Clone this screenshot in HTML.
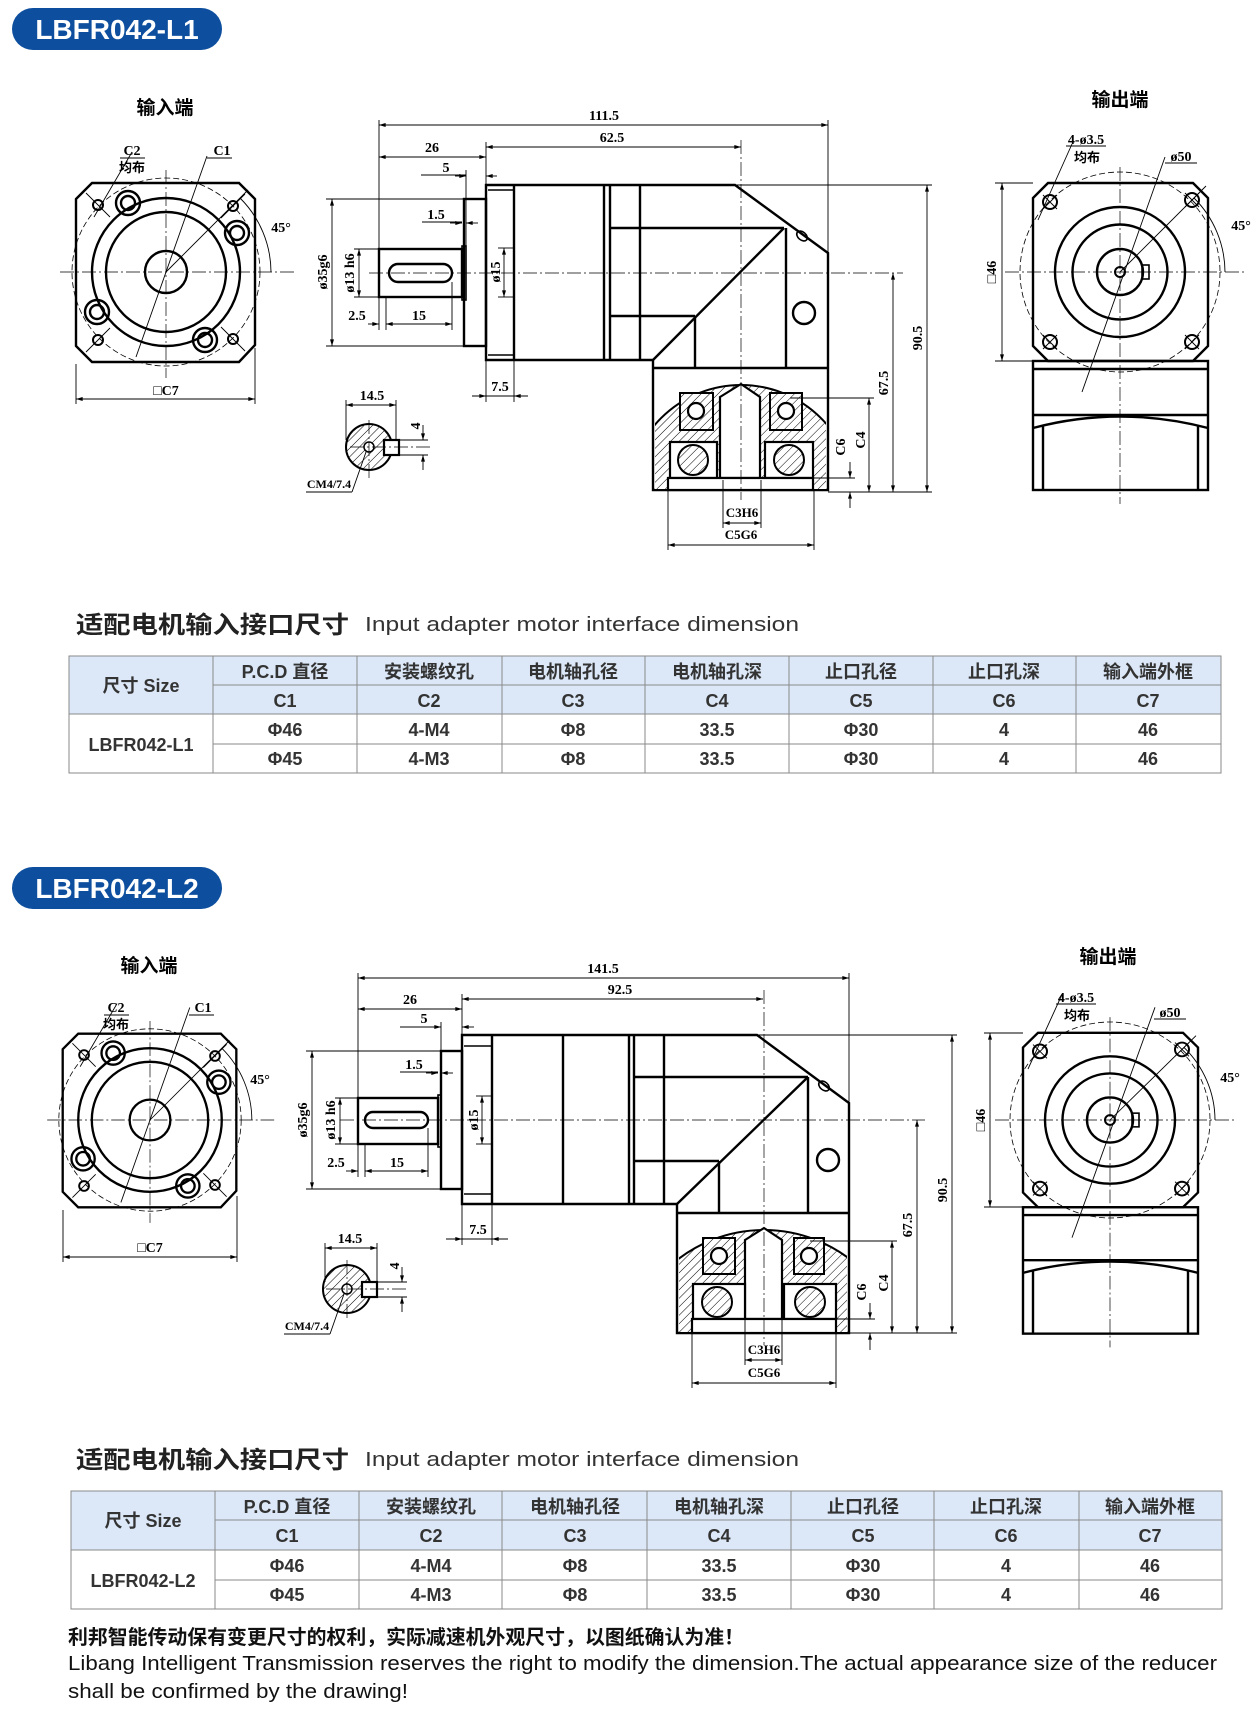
<!DOCTYPE html>
<html><head><meta charset="utf-8"><style>
html,body{margin:0;padding:0;background:#fff;width:1259px;height:1712px;overflow:hidden}
svg{display:block}
.o{fill:none;stroke:#000;stroke-width:2.4;stroke-linejoin:miter}
.w{fill:#fff;stroke:#000;stroke-width:2.2}
.t{fill:none;stroke:#000;stroke-width:0.9}
.d{fill:none;stroke:#000;stroke-width:0.9;marker-start:url(#ar);marker-end:url(#ar)}
.c{fill:none;stroke:#000;stroke-width:0.7;stroke-dasharray:14 3 2 3}
.dc{fill:none;stroke:#000;stroke-width:0.8;stroke-dasharray:6 3}
.h{fill:url(#hatch);stroke:#000;stroke-width:2}
.l{font-family:"Liberation Serif","DejaVu Serif",serif;font-weight:bold;font-size:14px;fill:#000;text-anchor:middle}
.cn{font-family:"Liberation Sans","Noto Sans CJK SC",sans-serif;font-weight:bold;font-size:19px;fill:#000;text-anchor:middle}
.cs{font-family:"Liberation Sans","Noto Sans CJK SC",sans-serif;font-weight:bold;font-size:13px;fill:#000;text-anchor:middle}
.th{font-family:"Liberation Sans","Noto Sans CJK SC",sans-serif;font-size:18px;fill:#333;text-anchor:middle;font-weight:bold}
.tv{font-family:"Liberation Sans","Noto Sans CJK SC",sans-serif;font-size:18px;fill:#333;text-anchor:middle;font-weight:bold}
.tt{font-family:"Liberation Sans","Noto Sans CJK SC",sans-serif;font-weight:bold;font-size:24px;fill:#222}
.te{font-family:"Liberation Sans",sans-serif;font-size:20px;fill:#333;font-weight:500}
.ft{font-family:"Liberation Sans","Noto Sans CJK SC",sans-serif;font-size:20px;fill:#111}
</style></head><body>
<svg width="1259" height="1712" viewBox="0 0 1259 1712" xmlns="http://www.w3.org/2000/svg">
<defs>
<marker id="ar" viewBox="0 0 10 6" refX="10" refY="3" markerWidth="8" markerHeight="4" orient="auto-start-reverse" markerUnits="userSpaceOnUse"><path d="M0,0 L10,3 L0,6 z" fill="#000"/></marker>
<pattern id="hatch" patternUnits="userSpaceOnUse" width="6" height="6" patternTransform="rotate(45)"><rect width="6" height="6" fill="#fff"/><line x1="0" y1="0" x2="0" y2="6" stroke="#000" stroke-width="1"/></pattern>
<g id="inv">
<polygon class="o" points="-74,-89 73,-89 89,-73 89,73 73,90 -74,90 -90,74 -90,-73"/>
<circle class="dc" r="94"/>
<circle class="o" r="74"/><circle class="o" r="60"/><circle class="o" r="21"/>
<g class="o"><circle cx="-38" cy="-69" r="12"/><circle cx="-38" cy="-69" r="7"/><circle cx="71" cy="-39" r="12"/><circle cx="71" cy="-39" r="7"/><circle cx="-69" cy="40" r="12"/><circle cx="-69" cy="40" r="7"/><circle cx="39" cy="68" r="12"/><circle cx="39" cy="68" r="7"/></g>
<g style="fill:none;stroke:#000;stroke-width:2"><circle cx="-68" cy="-67" r="5"/><circle cx="67" cy="-66" r="5"/><circle cx="-68" cy="68" r="5"/><circle cx="67" cy="67" r="5"/></g>
<g class="t"><line x1="-80" y1="-79" x2="-56" y2="-55"/><line x1="79" y1="-78" x2="55" y2="-54"/><line x1="-80" y1="80" x2="-56" y2="56"/><line x1="79" y1="79" x2="55" y2="55"/>
<line x1="0" y1="0" x2="82" y2="-82"/><path d="M74,-74 A105,105 0 0 1 105,0"/><line x1="-72" y1="-55" x2="-34" y2="-120"/><line x1="-30" y1="85" x2="41" y2="-116"/></g>
<line class="c" x1="-106" y1="0" x2="128" y2="0"/><line class="c" x1="0" y1="-102" x2="0" y2="106"/>
</g>
<g id="outv">
<polygon class="o" points="-72,-89 73,-89 88,-74 88,74 73,89 -72,89 -87,74 -87,-74"/>
<circle class="dc" r="100"/>
<circle class="o" r="65"/><circle class="o" r="47.5"/><circle class="o" r="23"/><circle class="o" r="5" style="stroke-width:2"/>
<rect class="o" x="22" y="-7" width="7" height="14" style="stroke-width:1.6"/>
<g style="fill:none;stroke:#000;stroke-width:2"><circle cx="-70" cy="-70" r="7"/><circle cx="72" cy="-72" r="7"/><circle cx="-70" cy="70" r="7"/><circle cx="72" cy="70" r="7"/></g>
<g class="t"><path d="M-77,-77 L-63,-63 M-77,-63 L-63,-77 M65,-79 L79,-65 M65,-65 L79,-79 M-77,63 L-63,77 M-77,77 L-63,63 M65,63 L79,77 M65,77 L79,63"/>
<line x1="-48" y1="-128" x2="-82" y2="-52"/><line x1="45" y1="-115" x2="-38" y2="120"/><line x1="0" y1="0" x2="86" y2="-86"/><path d="M74,-74 A105,105 0 0 1 105,0"/></g>
<rect class="o" x="-87" y="89" width="175" height="129"/>
<line class="o" x1="-87" y1="97" x2="88" y2="97"/><line class="o" x1="-87" y1="143" x2="88" y2="143"/>
<path class="o" d="M-87,156 Q0,133 88,156"/><line class="o" x1="-77" y1="153" x2="-77" y2="218"/><line class="o" x1="78" y1="153" x2="78" y2="218"/>
<line class="c" x1="-115" y1="0" x2="126" y2="0"/><line class="c" x1="0" y1="-105" x2="0" y2="232"/>
</g>
</defs>

<!-- ========== SECTION 1 ========== -->
<rect x="12" y="8" width="210" height="42" rx="21" fill="#0d4f9e"/>
<text x="117" y="39" style="font-family:'Liberation Sans',sans-serif;font-size:28px;font-weight:bold;fill:#fff;text-anchor:middle">LBFR042-L1</text>

<use href="#inv" transform="translate(166,272)"/>
<text class="cn" x="165" y="114">输入端</text>
<text class="l" x="132" y="155">C2</text><line class="t" x1="120" y1="158" x2="145" y2="158"/>
<text class="cs" x="132" y="172">均布</text>
<text class="l" x="222" y="155">C1</text><line class="t" x1="207" y1="158" x2="232" y2="158"/>
<text class="l" x="281" y="232">45°</text>
<line class="t" x1="76" y1="364" x2="76" y2="404"/><line class="t" x1="255" y1="348" x2="255" y2="404"/>
<line class="d" x1="76" y1="399" x2="255" y2="399"/>
<text class="l" x="166" y="395">□C7</text>

<use href="#outv" transform="translate(1120,272)"/>
<text class="cn" x="1120" y="106">输出端</text>
<text class="l" x="1086" y="144">4-ø3.5</text><line class="t" x1="1066" y1="146" x2="1106" y2="146"/>
<text class="cs" x="1087" y="162">均布</text>
<text class="l" x="1181" y="161">ø50</text><line class="t" x1="1165" y1="163" x2="1197" y2="163"/>
<text class="l" x="1241" y="230">45°</text>
<line class="t" x1="995" y1="183" x2="1033" y2="183"/><line class="t" x1="995" y1="361" x2="1033" y2="361"/>
<line class="d" x1="1002" y1="183" x2="1002" y2="361"/>
<text class="l" transform="translate(996,272) rotate(-90)">□46</text>

<!-- side view 1 -->
<g>
<path class="o" d="M486,185 H735 L828,253 V490 H653 V360 H486 Z"/>
<line class="o" x1="514" y1="185" x2="514" y2="360"/>
<line class="t" x1="488" y1="190" x2="514" y2="190" style="stroke-width:1.6"/><line class="t" x1="488" y1="355" x2="514" y2="355" style="stroke-width:1.6"/>
<rect class="o" x="464" y="199" width="22" height="147"/>
<rect class="o" x="462" y="246" width="4" height="54" style="stroke-width:1.6"/>
<rect class="o" x="379" y="249" width="83" height="48"/>
<rect class="o" x="389" y="264" width="63" height="18" rx="9"/>
<g class="o"><line x1="604" y1="185" x2="604" y2="360"/><line x1="610" y1="185" x2="610" y2="360"/><line x1="640" y1="185" x2="640" y2="360"/>
<line x1="610" y1="228" x2="784" y2="228"/><line x1="610" y1="316" x2="695" y2="316"/><line x1="653" y1="360" x2="784" y2="228"/>
<line x1="695" y1="316" x2="695" y2="368"/><line x1="786" y1="228" x2="786" y2="368"/><line x1="653" y1="368" x2="828" y2="368"/></g>
<circle class="o" cx="804" cy="313" r="11"/><ellipse class="o" cx="802" cy="236" rx="6" ry="4" transform="rotate(40 802 236)" style="stroke-width:1.6"/>
<clipPath id="cp1"><rect x="655" y="370" width="171" height="119"/></clipPath>
<circle class="h" cx="741" cy="498" r="113" clip-path="url(#cp1)"/>
<polygon class="w" points="720,397 741,384 760,397 760,478 720,478"/>
<rect class="h" x="680" y="393" width="33" height="37"/><circle class="w" cx="696" cy="411" r="8"/>
<rect class="h" x="770" y="393" width="32" height="37"/><circle class="w" cx="786" cy="411" r="8"/>
<rect class="w" x="670" y="442" width="47" height="36"/><circle class="h" cx="693" cy="460" r="15"/>
<rect class="w" x="765" y="442" width="48" height="36"/><circle class="h" cx="789" cy="460" r="15"/>
<rect class="w" x="668" y="478" width="145" height="12"/>
<line class="c" x1="741" y1="140" x2="741" y2="500"/>
<line class="c" x1="369" y1="273" x2="903" y2="273"/>
</g>
<!-- dims 1 -->
<g class="t">
<line x1="379" y1="120" x2="379" y2="249"/><line x1="828" y1="120" x2="828" y2="253"/>
<line x1="486" y1="142" x2="486" y2="185"/><line x1="466" y1="170" x2="466" y2="246"/>
<line x1="326" y1="199" x2="464" y2="199"/><line x1="326" y1="346" x2="464" y2="346"/>
<line x1="354" y1="249" x2="379" y2="249"/><line x1="354" y1="297" x2="379" y2="297"/>
<line x1="498" y1="248" x2="514" y2="248"/><line x1="498" y1="297" x2="514" y2="297"/>
<line x1="386" y1="297" x2="386" y2="330"/><line x1="452" y1="282" x2="452" y2="330"/>
<line x1="486" y1="360" x2="486" y2="402"/><line x1="514" y1="360" x2="514" y2="402"/>
<line x1="735" y1="185" x2="932" y2="185"/><line x1="828" y1="492" x2="932" y2="492"/>
<line x1="790" y1="398" x2="874" y2="398"/><line x1="813" y1="478" x2="855" y2="478"/>
<line x1="723" y1="480" x2="723" y2="528"/><line x1="761" y1="480" x2="761" y2="528"/>
<line x1="668" y1="490" x2="668" y2="550"/><line x1="814" y1="490" x2="814" y2="550"/>
<line x1="422" y1="222" x2="462" y2="222"/><line x1="421" y1="175" x2="466" y2="175"/>
</g>
<line class="d" x1="379" y1="125" x2="828" y2="125"/><text class="l" x="604" y="120">111.5</text>
<line class="d" x1="486" y1="147" x2="741" y2="147"/><text class="l" x="612" y="142">62.5</text>
<line class="d" x1="379" y1="157" x2="486" y2="157"/><text class="l" x="432" y="152">26</text>
<line class="d" x1="455" y1="176" x2="466" y2="176" style="marker-start:none"/><line class="d" x1="497" y1="176" x2="486" y2="176" style="marker-start:none"/><text class="l" x="446" y="172">5</text>
<line class="d" x1="450" y1="223" x2="462" y2="223" style="marker-start:none"/><line class="d" x1="478" y1="223" x2="466" y2="223" style="marker-start:none"/><text class="l" x="436" y="219">1.5</text>
<line class="d" x1="332" y1="199" x2="332" y2="346"/><text class="l" transform="translate(327,272) rotate(-90)">ø35g6</text>
<line class="d" x1="359" y1="249" x2="359" y2="297"/><text class="l" transform="translate(354,273) rotate(-90)">ø13  h6</text>
<line class="d" x1="504" y1="248" x2="504" y2="297"/><text class="l" transform="translate(500,272) rotate(-90)">ø15</text>
<line class="d" x1="368" y1="324" x2="379" y2="324" style="marker-start:none"/><line class="d" x1="386" y1="324" x2="452" y2="324"/>
<line class="t" x1="379" y1="297" x2="379" y2="330"/>
<text class="l" x="357" y="320">2.5</text><text class="l" x="419" y="320">15</text>
<line class="d" x1="472" y1="396" x2="486" y2="396" style="marker-start:none"/><line class="d" x1="528" y1="396" x2="514" y2="396" style="marker-start:none"/><line class="t" x1="472" y1="396" x2="528" y2="396"/><text class="l" x="500" y="391">7.5</text>
<line class="d" x1="927" y1="185" x2="927" y2="492"/><text class="l" transform="translate(922,338) rotate(-90)">90.5</text>
<line class="d" x1="893" y1="273" x2="893" y2="492"/><text class="l" transform="translate(888,383) rotate(-90)">67.5</text>
<line class="d" x1="869" y1="398" x2="869" y2="492"/><text class="l" transform="translate(865,440) rotate(-90)">C4</text>
<line class="d" x1="850" y1="462" x2="850" y2="478" style="marker-start:none"/><line class="d" x1="850" y1="508" x2="850" y2="492" style="marker-start:none"/><text class="l" transform="translate(845,447) rotate(-90)">C6</text>
<line class="d" x1="723" y1="523" x2="761" y2="523"/><text class="cs" x="742" y="517" style="font-family:'Liberation Serif',serif">C3H6</text>
<line class="d" x1="668" y1="545" x2="814" y2="545"/><text class="cs" x="741" y="539" style="font-family:'Liberation Serif',serif">C5G6</text>
<!-- key 1 -->
<circle class="h" cx="369" cy="447" r="23"/><circle class="w" cx="369" cy="447" r="5" style="stroke-width:1.5"/>
<rect class="w" x="384" y="440" width="15" height="15"/>
<line class="c" x1="350" y1="447" x2="430" y2="447"/><line class="c" x1="369" y1="420" x2="369" y2="478"/>
<line class="t" x1="346" y1="400" x2="346" y2="440"/><line class="t" x1="396" y1="400" x2="396" y2="440"/>
<line class="d" x1="346" y1="405" x2="396" y2="405"/><text class="l" x="372" y="400">14.5</text>
<line class="t" x1="399" y1="440" x2="428" y2="440"/><line class="t" x1="399" y1="455" x2="428" y2="455"/>
<line class="d" x1="423" y1="425" x2="423" y2="440" style="marker-start:none"/><line class="d" x1="423" y1="470" x2="423" y2="455" style="marker-start:none"/>
<text class="l" transform="translate(420,426) rotate(-90)">4</text>
<line class="t" x1="306" y1="492" x2="352" y2="492"/><line class="t" x1="352" y1="492" x2="366" y2="452"/>
<text class="l" x="329" y="488" style="font-size:12px">CM4/7.4</text>

<!-- table 1 -->
<text class="tt" x="76" y="633" textLength="273" lengthAdjust="spacingAndGlyphs">适配电机输入接口尺寸</text>
<text class="te" x="365" y="631" textLength="434" lengthAdjust="spacingAndGlyphs">Input adapter motor interface dimension</text>
<rect x="69" y="656" width="1152" height="58" fill="#dce8f7"/>
<g stroke="#8a8a8a" stroke-width="1" fill="none">
<rect x="69" y="656" width="1152" height="117"/>
<line x1="213" y1="685" x2="1221" y2="685"/><line x1="69" y1="714" x2="1221" y2="714"/><line x1="213" y1="744" x2="1221" y2="744"/>
<line x1="213" y1="656" x2="213" y2="773"/><line x1="357" y1="656" x2="357" y2="773"/><line x1="502" y1="656" x2="502" y2="773"/><line x1="645" y1="656" x2="645" y2="773"/><line x1="789" y1="656" x2="789" y2="773"/><line x1="933" y1="656" x2="933" y2="773"/><line x1="1076" y1="656" x2="1076" y2="773"/>
</g>
<g class="th"><text x="141" y="692">尺寸 Size</text><text x="285" y="678">P.C.D 直径</text><text x="429" y="678">安装螺纹孔</text><text x="573" y="678">电机轴孔径</text><text x="717" y="678">电机轴孔深</text><text x="861" y="678">止口孔径</text><text x="1004" y="678">止口孔深</text><text x="1148" y="678">输入端外框</text>
<text x="285" y="707">C1</text><text x="429" y="707">C2</text><text x="573" y="707">C3</text><text x="717" y="707">C4</text><text x="861" y="707">C5</text><text x="1004" y="707">C6</text><text x="1148" y="707">C7</text></g>
<g class="tv"><text x="141" y="751">LBFR042-L1</text>
<text x="285" y="736">Φ46</text><text x="429" y="736">4-M4</text><text x="573" y="736">Φ8</text><text x="717" y="736">33.5</text><text x="861" y="736">Φ30</text><text x="1004" y="736">4</text><text x="1148" y="736">46</text>
<text x="285" y="765">Φ45</text><text x="429" y="765">4-M3</text><text x="573" y="765">Φ8</text><text x="717" y="765">33.5</text><text x="861" y="765">Φ30</text><text x="1004" y="765">4</text><text x="1148" y="765">46</text></g>

<!-- ========== SECTION 2 ========== -->
<rect x="12" y="867" width="210" height="42" rx="21" fill="#0d4f9e"/>
<text x="117" y="898" style="font-family:'Liberation Sans',sans-serif;font-size:28px;font-weight:bold;fill:#fff;text-anchor:middle">LBFR042-L2</text>

<use href="#inv" transform="translate(150,1120) scale(0.97)"/>
<text class="cn" x="149" y="972">输入端</text>
<text class="l" x="116" y="1012">C2</text><line class="t" x1="104" y1="1015" x2="129" y2="1015"/>
<text class="cs" x="116" y="1029">均布</text>
<text class="l" x="203" y="1012">C1</text><line class="t" x1="189" y1="1015" x2="214" y2="1015"/>
<text class="l" x="260" y="1084">45°</text>
<line class="t" x1="63" y1="1210" x2="63" y2="1262"/><line class="t" x1="237" y1="1196" x2="237" y2="1262"/>
<line class="d" x1="63" y1="1257" x2="237" y2="1257"/>
<text class="l" x="150" y="1252">□C7</text>

<use href="#outv" transform="translate(1110,1120) scale(1,0.98)"/>
<text class="cn" x="1108" y="963">输出端</text>
<text class="l" x="1076" y="1002">4-ø3.5</text><line class="t" x1="1056" y1="1004" x2="1096" y2="1004"/>
<text class="cs" x="1077" y="1020">均布</text>
<text class="l" x="1170" y="1017">ø50</text><line class="t" x1="1154" y1="1019" x2="1186" y2="1019"/>
<text class="l" x="1230" y="1082">45°</text>
<line class="t" x1="984" y1="1033" x2="1023" y2="1033"/><line class="t" x1="984" y1="1207" x2="1023" y2="1207"/>
<line class="d" x1="990" y1="1033" x2="990" y2="1207"/>
<text class="l" transform="translate(985,1120) rotate(-90)">□46</text>

<!-- side view 2 -->
<g>
<path class="o" d="M462,1035 H757 L849,1103 V1333 H677 V1204 H462 Z"/>
<line class="o" x1="492" y1="1035" x2="492" y2="1204"/>
<line class="t" x1="464" y1="1046" x2="492" y2="1046" style="stroke-width:1.6"/><line class="t" x1="464" y1="1194" x2="492" y2="1194" style="stroke-width:1.6"/>
<rect class="o" x="441" y="1051" width="21" height="138"/>
<rect class="o" x="438" y="1095" width="3" height="52" style="stroke-width:1.6"/>
<rect class="o" x="358" y="1098" width="80" height="46"/>
<rect class="o" x="365" y="1112" width="63" height="16" rx="8"/>
<g class="o"><line x1="563" y1="1035" x2="563" y2="1204"/><line x1="629" y1="1035" x2="629" y2="1204"/><line x1="634" y1="1035" x2="634" y2="1204"/><line x1="664" y1="1035" x2="664" y2="1204"/>
<line x1="634" y1="1077" x2="808" y2="1077"/><line x1="634" y1="1161" x2="719" y2="1161"/><line x1="677" y1="1204" x2="808" y2="1077"/>
<line x1="719" y1="1161" x2="719" y2="1213"/><line x1="808" y1="1077" x2="808" y2="1213"/><line x1="677" y1="1213" x2="849" y2="1213"/></g>
<circle class="o" cx="828" cy="1160" r="11"/><ellipse class="o" cx="824" cy="1086" rx="6" ry="4" transform="rotate(40 824 1086)" style="stroke-width:1.6"/>
<clipPath id="cp2"><rect x="679" y="1215" width="168" height="117"/></clipPath>
<circle class="h" cx="764" cy="1371" r="141" clip-path="url(#cp2)"/>
<polygon class="w" points="745,1240 764,1228 782,1240 782,1319 745,1319"/>
<rect class="h" x="703" y="1238" width="32" height="36"/><circle class="w" cx="719" cy="1256" r="8"/>
<rect class="h" x="794" y="1238" width="30" height="36"/><circle class="w" cx="809" cy="1256" r="8"/>
<rect class="w" x="693" y="1284" width="52" height="35"/><circle class="h" cx="717" cy="1302" r="15"/>
<rect class="w" x="784" y="1284" width="52" height="35"/><circle class="h" cx="810" cy="1302" r="15"/>
<rect class="w" x="692" y="1319" width="144" height="14"/>
<line class="c" x1="764" y1="990" x2="764" y2="1345"/>
<line class="c" x1="340" y1="1120" x2="925" y2="1120"/>
</g>
<!-- dims 2 -->
<g class="t">
<line x1="358" y1="973" x2="358" y2="1098"/><line x1="849" y1="973" x2="849" y2="1103"/>
<line x1="462" y1="994" x2="462" y2="1035"/><line x1="441" y1="1022" x2="441" y2="1051"/>
<line x1="306" y1="1051" x2="441" y2="1051"/><line x1="306" y1="1189" x2="441" y2="1189"/>
<line x1="335" y1="1098" x2="358" y2="1098"/><line x1="335" y1="1144" x2="358" y2="1144"/>
<line x1="476" y1="1096" x2="492" y2="1096"/><line x1="476" y1="1144" x2="492" y2="1144"/>
<line x1="365" y1="1144" x2="365" y2="1177"/><line x1="428" y1="1128" x2="428" y2="1177"/><line x1="358" y1="1144" x2="358" y2="1177"/>
<line x1="462" y1="1204" x2="462" y2="1245"/><line x1="492" y1="1204" x2="492" y2="1245"/>
<line x1="757" y1="1035" x2="957" y2="1035"/><line x1="849" y1="1333" x2="957" y2="1333"/>
<line x1="810" y1="1241" x2="897" y2="1241"/><line x1="836" y1="1319" x2="875" y2="1319"/>
<line x1="745" y1="1319" x2="745" y2="1365"/><line x1="782" y1="1319" x2="782" y2="1365"/>
<line x1="692" y1="1333" x2="692" y2="1388"/><line x1="836" y1="1333" x2="836" y2="1388"/>
<line x1="400" y1="1072" x2="438" y2="1072"/><line x1="400" y1="1027" x2="441" y2="1027"/>
</g>
<line class="d" x1="358" y1="978" x2="849" y2="978"/><text class="l" x="603" y="973">141.5</text>
<line class="d" x1="462" y1="999" x2="763" y2="999"/><text class="l" x="620" y="994">92.5</text>
<line class="d" x1="358" y1="1009" x2="462" y2="1009"/><text class="l" x="410" y="1004">26</text>
<line class="d" x1="430" y1="1027" x2="441" y2="1027" style="marker-start:none"/><line class="d" x1="474" y1="1027" x2="462" y2="1027" style="marker-start:none"/><text class="l" x="424" y="1023">5</text>
<line class="d" x1="426" y1="1073" x2="438" y2="1073" style="marker-start:none"/><line class="d" x1="453" y1="1073" x2="441" y2="1073" style="marker-start:none"/><text class="l" x="414" y="1069">1.5</text>
<line class="d" x1="312" y1="1051" x2="312" y2="1189"/><text class="l" transform="translate(307,1120) rotate(-90)">ø35g6</text>
<line class="d" x1="340" y1="1098" x2="340" y2="1144"/><text class="l" transform="translate(335,1120) rotate(-90)">ø13  h6</text>
<line class="d" x1="482" y1="1096" x2="482" y2="1144"/><text class="l" transform="translate(478,1120) rotate(-90)">ø15</text>
<line class="d" x1="346" y1="1171" x2="358" y2="1171" style="marker-start:none"/><line class="d" x1="365" y1="1171" x2="428" y2="1171"/>
<text class="l" x="336" y="1167">2.5</text><text class="l" x="397" y="1167">15</text>
<line class="t" x1="446" y1="1239" x2="508" y2="1239"/><line class="d" x1="450" y1="1239" x2="462" y2="1239" style="marker-start:none"/><line class="d" x1="504" y1="1239" x2="492" y2="1239" style="marker-start:none"/><text class="l" x="478" y="1234">7.5</text>
<line class="d" x1="952" y1="1035" x2="952" y2="1333"/><text class="l" transform="translate(947,1190) rotate(-90)">90.5</text>
<line class="d" x1="917" y1="1120" x2="917" y2="1333"/><text class="l" transform="translate(912,1225) rotate(-90)">67.5</text>
<line class="d" x1="892" y1="1241" x2="892" y2="1333"/><text class="l" transform="translate(888,1283) rotate(-90)">C4</text>
<line class="d" x1="870" y1="1303" x2="870" y2="1319" style="marker-start:none"/><line class="d" x1="870" y1="1350" x2="870" y2="1333" style="marker-start:none"/><text class="l" transform="translate(866,1292) rotate(-90)">C6</text>
<line class="d" x1="745" y1="1360" x2="782" y2="1360"/><text class="cs" x="764" y="1354" style="font-family:'Liberation Serif',serif">C3H6</text>
<line class="d" x1="692" y1="1383" x2="836" y2="1383"/><text class="cs" x="764" y="1377" style="font-family:'Liberation Serif',serif">C5G6</text>
<!-- key 2 -->
<circle class="h" cx="347" cy="1289" r="24"/><circle class="w" cx="347" cy="1289" r="5" style="stroke-width:1.5"/>
<rect class="w" x="362" y="1282" width="15" height="15"/>
<line class="c" x1="326" y1="1289" x2="408" y2="1289"/><line class="c" x1="347" y1="1260" x2="347" y2="1320"/>
<line class="t" x1="325" y1="1243" x2="325" y2="1282"/><line class="t" x1="377" y1="1243" x2="377" y2="1282"/>
<line class="d" x1="325" y1="1248" x2="377" y2="1248"/><text class="l" x="350" y="1243">14.5</text>
<line class="t" x1="377" y1="1282" x2="407" y2="1282"/><line class="t" x1="377" y1="1297" x2="407" y2="1297"/>
<line class="d" x1="402" y1="1267" x2="402" y2="1282" style="marker-start:none"/><line class="d" x1="402" y1="1312" x2="402" y2="1297" style="marker-start:none"/>
<text class="l" transform="translate(399,1266) rotate(-90)">4</text>
<line class="t" x1="284" y1="1334" x2="330" y2="1334"/><line class="t" x1="330" y1="1334" x2="344" y2="1294"/>
<text class="l" x="307" y="1330" style="font-size:12px">CM4/7.4</text>

<!-- table 2 -->
<text class="tt" x="76" y="1468" textLength="273" lengthAdjust="spacingAndGlyphs">适配电机输入接口尺寸</text>
<text class="te" x="365" y="1466" textLength="434" lengthAdjust="spacingAndGlyphs">Input adapter motor interface dimension</text>
<rect x="71" y="1491" width="1151" height="59" fill="#dce8f7"/>
<g stroke="#8a8a8a" stroke-width="1" fill="none">
<rect x="71" y="1491" width="1151" height="118"/>
<line x1="215" y1="1520" x2="1222" y2="1520"/><line x1="71" y1="1550" x2="1222" y2="1550"/><line x1="215" y1="1580" x2="1222" y2="1580"/>
<line x1="215" y1="1491" x2="215" y2="1609"/><line x1="359" y1="1491" x2="359" y2="1609"/><line x1="502" y1="1491" x2="502" y2="1609"/><line x1="647" y1="1491" x2="647" y2="1609"/><line x1="791" y1="1491" x2="791" y2="1609"/><line x1="934" y1="1491" x2="934" y2="1609"/><line x1="1079" y1="1491" x2="1079" y2="1609"/>
</g>
<g class="th"><text x="143" y="1527">尺寸 Size</text><text x="287" y="1513">P.C.D 直径</text><text x="431" y="1513">安装螺纹孔</text><text x="575" y="1513">电机轴孔径</text><text x="719" y="1513">电机轴孔深</text><text x="863" y="1513">止口孔径</text><text x="1006" y="1513">止口孔深</text><text x="1150" y="1513">输入端外框</text>
<text x="287" y="1542">C1</text><text x="431" y="1542">C2</text><text x="575" y="1542">C3</text><text x="719" y="1542">C4</text><text x="863" y="1542">C5</text><text x="1006" y="1542">C6</text><text x="1150" y="1542">C7</text></g>
<g class="tv"><text x="143" y="1587">LBFR042-L2</text>
<text x="287" y="1572">Φ46</text><text x="431" y="1572">4-M4</text><text x="575" y="1572">Φ8</text><text x="719" y="1572">33.5</text><text x="863" y="1572">Φ30</text><text x="1006" y="1572">4</text><text x="1150" y="1572">46</text>
<text x="287" y="1601">Φ45</text><text x="431" y="1601">4-M3</text><text x="575" y="1601">Φ8</text><text x="719" y="1601">33.5</text><text x="863" y="1601">Φ30</text><text x="1006" y="1601">4</text><text x="1150" y="1601">46</text></g>

<!-- footer -->
<text class="ft" x="68" y="1644" style="font-weight:bold" textLength="676" lengthAdjust="spacingAndGlyphs">利邦智能传动保有变更尺寸的权利，实际减速机外观尺寸，以图纸确认为准！</text>
<text class="ft" x="68" y="1670" textLength="1149" lengthAdjust="spacingAndGlyphs">Libang Intelligent Transmission reserves the right to modify the dimension.The actual appearance size of the reducer</text>
<text class="ft" x="68" y="1698" textLength="340" lengthAdjust="spacingAndGlyphs">shall be confirmed by the drawing!</text>
</svg>
</body></html>
